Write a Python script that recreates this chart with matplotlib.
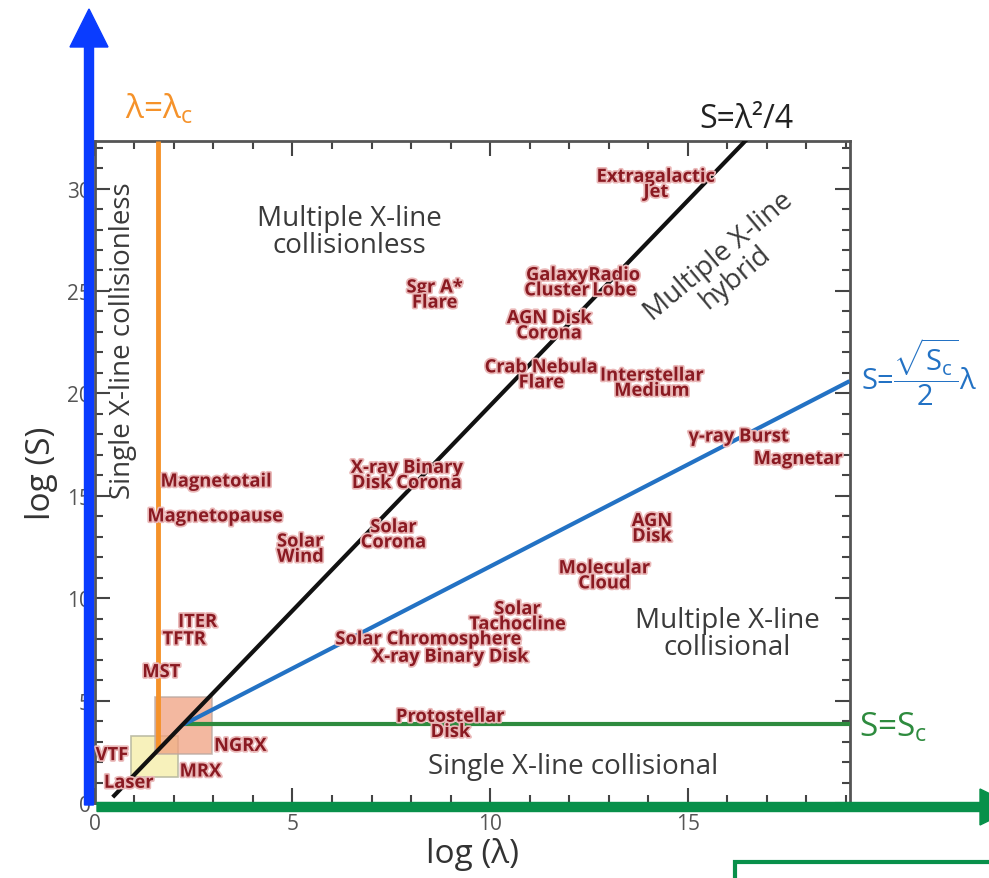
import matplotlib
matplotlib.use("Agg")
import matplotlib.pyplot as plt
import matplotlib.patheffects as pe
from matplotlib.patches import FancyArrow, Rectangle

plt.rcParams['font.family'] = ['Open Sans', 'DejaVu Sans']
plt.rcParams['mathtext.fontset'] = 'custom'
plt.rcParams['mathtext.rm'] = 'Open Sans'
plt.rcParams['mathtext.it'] = 'Open Sans'

# boundary lines (log lambda, log S)
black_x = [0.45, 16.6]
black_y = [0.3, 32.6]
blue_x = [2.25, 19.1]
blue_y = [3.85, 20.6]
green_x = [2.25, 19.1]
green_y = [3.85, 3.85]
orange_x = [1.6, 1.6]
orange_y = [2.6, 32.3]

# lab experiment boxes: x0, y0, width, height
box_yellow = [0.9, 1.3, 1.2, 2.0]
box_salmon = [1.52, 2.4, 1.45, 2.8]

# red object labels (text, x, y)
objects = [
    ("Extragalactic\nJet", 14.2, 30.2),
    ("Galaxy\nCluster", 11.7, 25.4),
    ("Radio\nLobe", 13.15, 25.4),
    ("Sgr A*\nFlare", 8.6, 24.8),
    ("AGN Disk\nCorona", 11.5, 23.3),
    ("Crab Nebula\nFlare", 11.3, 20.9),
    ("Interstellar\nMedium", 14.1, 20.5),
    ("γ-ray Burst", 16.3, 17.9),
    ("Magnetar", 17.8, 16.8),
    ("X-ray Binary\nDisk Corona", 7.9, 16.0),
    ("Magnetotail", 3.07, 15.7),
    ("Magnetopause", 3.05, 14.0),
    ("Solar\nWind", 5.2, 12.4),
    ("Solar\nCorona", 7.56, 13.1),
    ("AGN\nDisk", 14.1, 13.4),
    ("Molecular\nCloud", 12.9, 11.1),
    ("Solar\nTachocline", 10.7, 9.1),
    ("Solar Chromosphere", 8.45, 8.0),
    ("X-ray Binary Disk", 9.0, 7.15),
    ("ITER", 2.6, 8.85),
    ("TFTR", 2.26, 8.0),
    ("MST", 1.68, 6.4),
    ("Protostellar\nDisk", 9.0, 3.85),
    ("VTF", 0.43, 2.35),
    ("Laser", 0.86, 1.0),
    ("NGRX", 3.68, 2.8),
    ("MRX", 2.67, 1.55),
]

fig = plt.figure(figsize=(9.89, 8.79), dpi=100)
ax = fig.add_axes([0.096, 0.085, 0.763, 0.753])
ax.set_xlim(0, 19.1)
ax.set_ylim(0, 32.3)

ax.add_patch(Rectangle((box_yellow[0], box_yellow[1]), box_yellow[2], box_yellow[3],
                       facecolor='#f7f0b4', edgecolor='#b8b8a0', lw=1.2, alpha=0.9, zorder=2))
ax.add_patch(Rectangle((box_salmon[0], box_salmon[1]), box_salmon[2], box_salmon[3],
                       facecolor='#f0a080', edgecolor='#b8a8a0', lw=1.2, alpha=0.75, zorder=2))

ax.plot(orange_x, orange_y, color='#f5922a', lw=3.5, zorder=3, clip_on=False, solid_capstyle='butt')
ax.plot(green_x, green_y, color='#2e8b3e', lw=3, zorder=3, solid_capstyle='butt')
ax.plot(blue_x, blue_y, color='#2372c4', lw=3, zorder=3, solid_capstyle='butt')
ax.plot(black_x, black_y, color='#111111', lw=3, zorder=3, solid_capstyle='butt')

# ticks, all sides, pointing in
ax.set_xticks([0, 5, 10, 15])
ax.set_yticks([0, 5, 10, 15, 20, 25, 30])
ax.set_xticks(range(0, 20), minor=True)
ax.set_yticks(range(0, 33), minor=True)
ax.tick_params(which='both', direction='in', top=True, right=True, color='#444444', width=1.5,
               labelsize=15, labelcolor='#555555')
ax.tick_params(which='major', length=11)
ax.tick_params(which='minor', length=6)
ax.tick_params(axis='x', pad=7)
ax.tick_params(axis='y', pad=3)
for s in ax.spines.values():
    s.set_color('#555555')
    s.set_linewidth(2)

ax.set_xlabel("log (λ)", fontsize=24, color='#333333', labelpad=2)
ax.set_ylabel("log (S)", fontsize=24, color='#333333', labelpad=6)

# region names
gray = '#3a3a3a'
ax.text(6.45, 27.9, "Multiple X-line\ncollisionless", fontsize=20, color=gray,
        ha='center', va='center', linespacing=0.95)
ax.text(0.72, 22.6, "Single X-line collisionless", fontsize=20, color=gray,
        ha='center', va='center', rotation=90)
ax.text(16.0, 26.2, "Multiple X-line\nhybrid", fontsize=20, color=gray,
        ha='center', va='center', rotation=40, linespacing=0.95)
ax.text(16.0, 8.3, "Multiple X-line\ncollisional", fontsize=20, color=gray,
        ha='center', va='center', linespacing=0.95)
ax.text(12.1, 1.8, "Single X-line collisional", fontsize=20, color=gray,
        ha='center', va='center')

# line names
ax.text(1.63, 33.9, r"λ=λ$_{\mathrm{c}}$", fontsize=24, color='#f5922a',
        ha='center', va='center', clip_on=False)
ax.text(16.5, 33.4, "S=λ²/4", fontsize=23, color='#222222',
        ha='center', va='center', clip_on=False)
ax.text(19.4, 21.1, r"S=$\dfrac{\sqrt{\mathrm{S_c}}}{2}$λ", fontsize=21, color='#2372c4',
        ha='left', va='center', clip_on=False)
ax.text(19.35, 3.75, r"S=S$_{\mathrm{c}}$", fontsize=24, color='#2e8b3e',
        ha='left', va='center', clip_on=False)

halo = [pe.withStroke(linewidth=2.5, foreground='#eab8b8')]
for name, x, y in objects:
    ax.text(x, y, name, fontsize=13.2, fontweight='bold', color='#8a1a22',
            ha='center', va='center', linespacing=0.8, zorder=5, path_effects=halo)

# big arrows drawn over the axes
fig.add_artist(FancyArrow(0.89, 0.73, 0, 7.96, width=0.09, head_width=0.38, head_length=0.38,
                          length_includes_head=True, color='#0a3cff',
                          transform=fig.dpi_scale_trans, clip_on=False, zorder=10))
fig.add_artist(FancyArrow(0.97, 0.71, 9.2, 0, width=0.09, head_width=0.36, head_length=0.37,
                          length_includes_head=True, color='#08904a',
                          transform=fig.dpi_scale_trans, clip_on=False, zorder=10))
fig.add_artist(Rectangle((7.35, -0.2), 3.0, 0.36, facecolor='none', edgecolor='#08904a',
                         lw=3, transform=fig.dpi_scale_trans, clip_on=False, zorder=10))

fig.savefig("out.png", dpi=100)
